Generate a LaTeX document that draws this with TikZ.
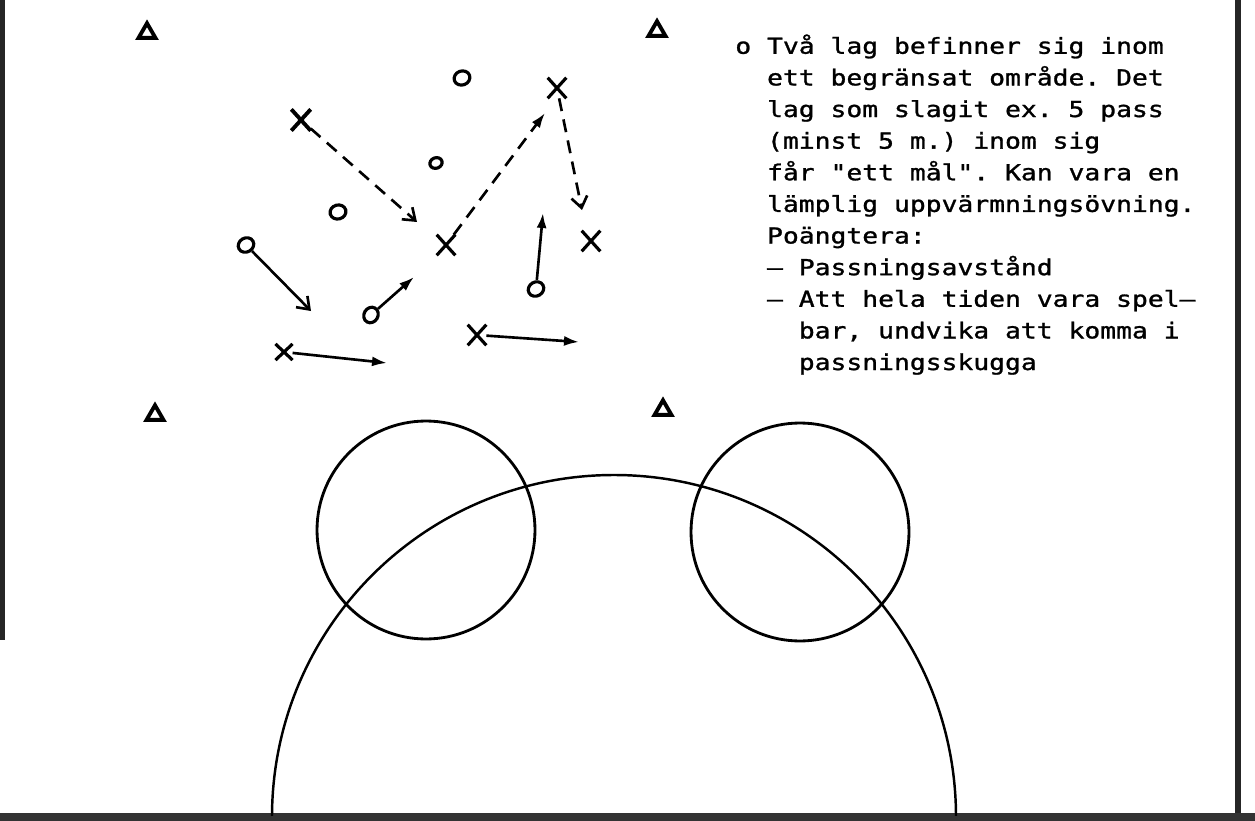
\documentclass[tikz,border=0pt]{standalone}
\usepackage{fontspec}
\usetikzlibrary{shapes.geometric,shapes.misc,arrows.meta}
\newfontfamily\notefont[FakeStretch=1.2,FakeBold=1.2]{DejaVu Sans Mono}
\frenchspacing

\begin{document}
\begin{tikzpicture}[x=0.02cm, y=-0.02cm,
  plx/.style={draw, cross out, line width=1.8pt, minimum width=0.31cm, minimum height=0.35cm, inner sep=0pt},
  plo/.style={draw, ellipse, line width=1.8pt, minimum width=0.32cm, minimum height=0.28cm, inner sep=0pt},
  cone/.style={draw, regular polygon, regular polygon sides=3, line width=2.2pt, minimum size=0.39cm, inner sep=0pt},
  run/.style={line width=1.5pt, -{Latex[length=0.3cm, width=0.2cm]}},
  runv/.style={line width=1.5pt, -{Straight Barb[length=0.22cm, width=0.32cm]}},
  pass/.style={dash pattern=on 0.26cm off 0.17cm},
  ring/.style={draw, circle, line width=1.6pt, minimum size=4.36cm, inner sep=0pt},
  frame/.style={line width=3pt, black!85},
  note/.style={anchor=base west, align=left, inner sep=0pt, font=\notefont\fontsize{12.5}{18}\selectfont}]
  \useasboundingbox (0,0) rectangle (1255,821);
  % frame
  \draw[frame] (2,0) -- (2,640);
  \draw[frame] (1238,0) -- (1238,817);
  \draw[line width=5pt, black!80] (0,817.5) -- (1255,817.5);
  % cones
  \foreach \n/\x/\y in {c1/147/33, c2/657/31, c3/155/415, c4/663/410}
    \node[cone] (\n) at (\x,\y) {};
  % goal area
  \begin{scope}
    \clip (0,0) rectangle (1255,815);
    \draw[line width=1.4pt] (614,817) circle[radius=342];
  \end{scope}
  \node[ring] (r1) at (426,530) {};
  \node[ring] (r2) at (800,532) {};
  % players
  \node[plo, rotate=20] (o1) at (462,78) {};
  \node[plo, rotate=20, minimum width=0.25cm, minimum height=0.21cm] (o2) at (436,163) {};
  \node[plo, rotate=15] (o3) at (338,212) {};
  \node[plo, rotate=30] (o4) at (246,245) {};
  \node[plo, rotate=30] (o5) at (536,289) {};
  \node[plo, rotate=60] (o6) at (371,315) {};
  \node[plx, line width=2.2pt] (x1) at (301,120) {};
  \node[plx] (x2) at (557,88) {};
  \node[plx] (x3) at (446,245) {};
  \node[plx] (x4) at (591,241) {};
  \node[plx, minimum width=0.28cm, minimum height=0.26cm] (x5) at (284,352) {};
  \node[plx] (x6) at (477,335) {};
  % passes and runs
  \coordinate (p1) at (417,222);
  \coordinate (p2) at (545,113);
  \coordinate (p3) at (582,210);
  \coordinate (m1) at (311,311);
  \coordinate (m2) at (414,277);
  \coordinate (m3) at (543,213);
  \coordinate (m4) at (387,363);
  \coordinate (m5) at (579,342);
  \draw[runv, pass] (x1) -- (p1);
  \draw[run, pass] (x3) -- (p2);
  \draw[runv, pass] (x2) -- (p3);
  \draw[runv] (o4) -- (m1);
  \draw[run] (o6) -- (m2);
  \draw[run] (o5) -- (m3);
  \draw[run] (x5) -- (m4);
  \draw[run] (x6) -- (m5);
  % text
  \node[note] (txt) at (735,370) {o Två lag befinner sig inom\\
    \phantom{oo}ett begränsat område. Det\\
    \phantom{oo}lag som slagit ex. 5 pass\\
    \phantom{oo}(minst 5 m.) inom sig\\
    \phantom{oo}får "ett mål". Kan vara en\\
    \phantom{oo}lämplig uppvärmningsövning.\\
    \phantom{oo}Poängtera:\\
    \phantom{oo}– Passningsavstånd\\
    \phantom{oo}– Att hela tiden vara spel–\\
    \phantom{oooo}bar, undvika att komma i\\
    \phantom{oooo}passningsskugga};
\end{tikzpicture}
\end{document}
